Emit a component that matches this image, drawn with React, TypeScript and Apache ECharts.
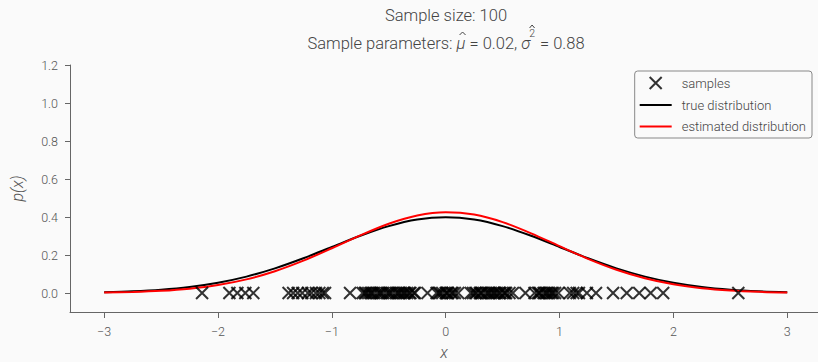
import React, { useEffect, useRef } from "react";
import * as echarts from "echarts";

const X_GRID = [-3, -2.75, -2.5, -2.25, -2, -1.75, -1.5, -1.25, -1, -0.75, -0.5, -0.25, 0, 0.25, 0.5, 0.75, 1, 1.25, 1.5, 1.75, 2, 2.25, 2.5, 2.75, 3];
const TRUE_PDF = [0.0044, 0.0091, 0.0175, 0.0317, 0.054, 0.0863, 0.1295, 0.1826, 0.242, 0.3011, 0.3521, 0.3867, 0.3989, 0.3867, 0.3521, 0.3011, 0.242, 0.1826, 0.1295, 0.0863, 0.054, 0.0317, 0.0175, 0.0091, 0.0044];
const EST_PDF = [0.0024, 0.0054, 0.0115, 0.0228, 0.0419, 0.0717, 0.1145, 0.1701, 0.2355, 0.3036, 0.3647, 0.408, 0.4252, 0.4127, 0.3731, 0.3142, 0.2464, 0.18, 0.1225, 0.0777, 0.0458, 0.0252, 0.0129, 0.0062, 0.0027];
const SAMPLES = [
  -2.14, -1.9, -1.83, -1.76, -1.69,
  -1.38, -1.34, -1.3, -1.26, -1.21, -1.18, -1.14, -1.11, -1.08, -1.06,
  -0.84, -0.73, -0.71, -0.7, -0.68, -0.66, -0.65, -0.63, -0.6, -0.58, -0.57, -0.55, -0.52, -0.5, -0.49, -0.47,
  -0.44, -0.42, -0.41, -0.39, -0.37, -0.36, -0.34, -0.32, -0.31, -0.28, -0.27, -0.16, -0.08, -0.06, -0.05, -0.03,
  0.0, 0.01, 0.02, 0.05, 0.06, 0.08, 0.11, 0.22, 0.24, 0.26, 0.27, 0.3, 0.31, 0.32, 0.35, 0.37, 0.38, 0.4,
  0.42, 0.43, 0.45, 0.47, 0.48, 0.51, 0.52, 0.53, 0.56, 0.59, 0.7, 0.78, 0.81, 0.82, 0.83, 0.86, 0.88, 0.89,
  0.91, 0.93, 0.94, 0.96, 0.99, 1.09, 1.12, 1.15, 1.17,
  1.24, 1.32, 1.47, 1.59, 1.7, 1.8, 1.91, 2.57,
];
const X_TICKS = [-3, -2, -1, 0, 1, 2, 3];
const Y_TICKS = [0, 0.2, 0.4, 0.6, 0.8, 1.0, 1.2];
const TITLE_1 = "Sample size: 100";
// title line 2 pieces: [text, kind, hat]  kind: n = normal, i = italic, s = superscript
const TITLE_2_PIECES: [string, string, boolean][] = [
  ["Sample parameters: ", "n", false],
  ["μ", "i", true],
  [" = 0.02, ", "n", false],
  ["σ", "i", false],
  ["2", "s", true],
  [" = 0.88", "n", false],
];
const SERIES_NAMES = ["samples", "true distribution", "estimated distribution"];

const FONT = "Roboto";
const BG = "#fafafa";
const TXT = "#555555";
const TITLE_C = "#444444";
const AX = "#666666";
const CROSS = "path://M0 0L10 10M10 0L0 10";
const LINE_ICON = "path://M0 5H32V7H0Z";

function fontSpec(kind: string) {
  if (kind === "i") return { fontStyle: "italic", fontSize: 16.5 };
  if (kind === "s") return { fontStyle: "normal", fontSize: 10.5 };
  return { fontStyle: "normal", fontSize: 16.5 };
}

export default function App() {
  const ref = useRef<HTMLDivElement>(null);
  useEffect(() => {
    document.body.style.margin = "0";
    document.body.style.background = BG;
    const chart = echarts.init(ref.current!, null, { renderer: "svg" });

    const canvas = document.createElement("canvas");
    const ctx = canvas.getContext("2d")!;
    const widths = TITLE_2_PIECES.map(([t, k]) => {
      const f = fontSpec(k);
      ctx.font = `${f.fontStyle} 300 ${f.fontSize}px ${FONT}`;
      return ctx.measureText(t).width;
    });
    const total = widths.reduce((a, b) => a + b, 0);
    let cx = 446 - total / 2;
    const baseY = 43;
    const titleEls: any[] = [];
    TITLE_2_PIECES.forEach(([t, k, hat], idx) => {
      const f = fontSpec(k);
      const y = k === "s" ? baseY - 10 : baseY;
      const px = k === "s" ? cx - 1 : cx;
      titleEls.push({
        type: "text",
        x: px,
        y,
        style: {
          text: t,
          fontFamily: FONT,
          fontWeight: 300,
          fontStyle: f.fontStyle,
          fontSize: f.fontSize,
          fill: TITLE_C,
          textAlign: "left",
          textVerticalAlign: "middle",
        },
      });
      if (hat) {
        const hx = px + widths[idx] / 2 + (k === "i" ? 1.5 : 0);
        const bottom = k === "s" ? 28 : 35;
        const half = k === "s" ? 2.5 : 3;
        titleEls.push({
          type: "polyline",
          shape: { points: [[hx - half, bottom], [hx, bottom - 3], [hx + half, bottom]] },
          style: { stroke: TITLE_C, lineWidth: 1, fill: null },
        });
      }
      cx += widths[idx];
    });

    chart.setOption({
      animation: false,
      backgroundColor: BG,
      graphic: [
        {
          type: "text",
          x: 446,
          y: 15,
          style: {
            text: TITLE_1,
            fontFamily: FONT,
            fontWeight: 300,
            fontSize: 16.5,
            fill: TITLE_C,
            textAlign: "center",
            textVerticalAlign: "middle",
          },
        },
        ...titleEls,
      ],
      legend: {
        right: 6,
        top: 71,
        orient: "vertical",
        itemWidth: 32,
        itemHeight: 12,
        itemGap: 8.5,
        padding: [5, 6, 5, 5],
        borderColor: "#888",
        borderWidth: 1,
        borderRadius: 3,
        backgroundColor: BG,
        symbolKeepAspect: true,
        textStyle: { fontFamily: FONT, fontWeight: 300, fontSize: 13, color: TITLE_C, padding: [0, 0, 0, 5] },
        data: [
          { name: SERIES_NAMES[0], icon: CROSS, itemStyle: { color: "transparent", borderColor: "#000", borderWidth: 2 } },
          { name: SERIES_NAMES[1], icon: LINE_ICON, itemStyle: { color: "#000", borderWidth: 0 } },
          { name: SERIES_NAMES[2], icon: LINE_ICON, itemStyle: { color: "#ff0000", borderWidth: 0 } },
        ],
      },
      grid: { left: 70, right: 0, top: 65, bottom: 50, containLabel: false, outerBoundsMode: "none" },
      xAxis: {
        type: "value",
        min: -3.3,
        max: 3.27,
        name: "x",
        nameLocation: "middle",
        nameGap: 32,
        nameTextStyle: { fontFamily: FONT, fontWeight: 300, fontStyle: "italic", fontSize: 16, color: TXT },
        axisLine: { show: true, onZero: false, lineStyle: { color: AX, width: 1 } },
        splitLine: { show: false },
        axisTick: { show: true, length: 6, lineStyle: { color: AX }, customValues: X_TICKS },
        axisLabel: {
          customValues: X_TICKS,
          fontFamily: FONT,
          fontWeight: 300,
          fontSize: 12.5,
          color: TXT,
          margin: 13,
          formatter: (v: number) => String(v).replace("-", "\u2212"),
        },
      },
      yAxis: {
        type: "value",
        min: -0.1,
        max: 1.2,
        name: "p(x)",
        nameLocation: "middle",
        nameGap: 45,
        nameRotate: 90,
        nameTextStyle: { fontFamily: FONT, fontWeight: 300, fontStyle: "italic", fontSize: 16, color: TXT },
        axisLine: { show: true, onZero: false, lineStyle: { color: AX, width: 1 } },
        splitLine: { show: false },
        axisTick: { show: true, length: 5, lineStyle: { color: AX }, customValues: Y_TICKS },
        axisLabel: {
          customValues: Y_TICKS,
          fontFamily: FONT,
          fontWeight: 300,
          fontSize: 12.5,
          color: TXT,
          margin: 12,
          formatter: (v: number) => v.toFixed(1),
        },
      },
      series: [
        {
          name: SERIES_NAMES[0],
          type: "scatter",
          symbol: CROSS,
          symbolSize: 12,
          itemStyle: { color: "transparent", borderColor: "#000", borderWidth: 2 },
          data: SAMPLES.map((x) => [x, 0]),
          z: 3,
        },
        {
          name: SERIES_NAMES[1],
          type: "line",
          smooth: 0.3,
          showSymbol: false,
          symbol: "none",
          lineStyle: { color: "#000", width: 2 },
          itemStyle: { color: "#000" },
          data: X_GRID.map((x, i) => [x, TRUE_PDF[i]]),
          z: 2,
        },
        {
          name: SERIES_NAMES[2],
          type: "line",
          smooth: 0.3,
          showSymbol: false,
          symbol: "none",
          lineStyle: { color: "#ff0000", width: 2 },
          itemStyle: { color: "#ff0000" },
          data: X_GRID.map((x, i) => [x, EST_PDF[i]]),
          z: 2,
        },
      ],
    });
    return () => chart.dispose();
  }, []);
  return <div ref={ref} style={{ width: 818, height: 362 }} />;
}
